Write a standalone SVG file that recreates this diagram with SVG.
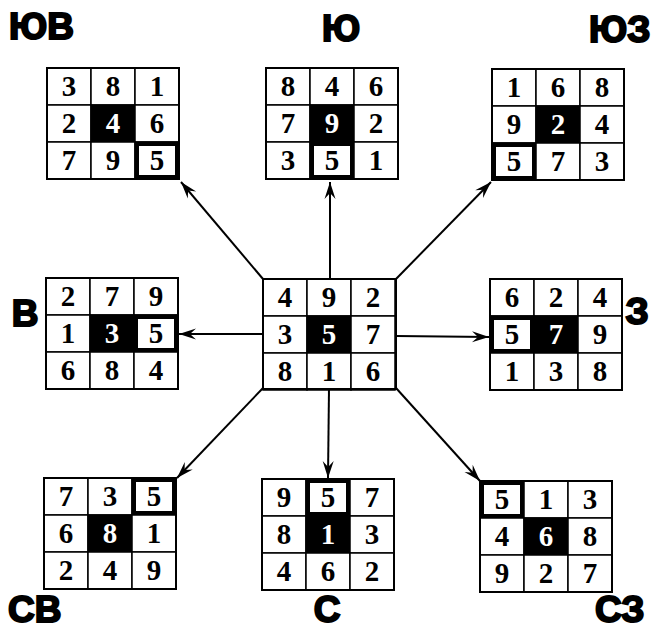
<svg xmlns="http://www.w3.org/2000/svg" width="653" height="631" viewBox="0 0 653 631">
<style>
.bg{fill:#fff}
.cell{fill:#fff;stroke:#000;stroke-width:1.5}
.blk{fill:#000;stroke:#000;stroke-width:1.5}
.hl{fill:#fff;stroke:#000;stroke-width:4}
.frame{fill:none;stroke:#000;stroke-width:2}
.d{font-family:"Liberation Serif","Times New Roman",serif;font-weight:bold;font-size:29px;text-anchor:middle;fill:#000}
.w{fill:#fff}
.lbl{font-family:"Liberation Sans",Arial,sans-serif;font-weight:bold;font-size:37px;fill:#000;stroke:#000;stroke-width:2}
.con line{stroke:#000;stroke-width:2;fill:none}
</style>
<defs>
<marker id="ah" markerUnits="userSpaceOnUse" viewBox="-18 -7 20 14" refX="0" refY="0" markerWidth="20" markerHeight="14" orient="auto">
<path d="M0,0 L-17,-5.5 L-11,0 L-17,5.5 Z" fill="#000"/>
</marker>
<g id="g3">
<rect class="cell" x="0" y="0" width="44" height="37"/>
<rect class="cell" x="44" y="0" width="44" height="37"/>
<rect class="cell" x="88" y="0" width="44" height="37"/>
<rect class="cell" x="0" y="37" width="44" height="37"/>
<rect class="blk" x="44" y="37" width="44" height="37"/>
<rect class="cell" x="88" y="37" width="44" height="37"/>
<rect class="cell" x="0" y="74" width="44" height="37"/>
<rect class="cell" x="44" y="74" width="44" height="37"/>
<rect class="cell" x="88" y="74" width="44" height="37"/>
</g>
</defs>
<rect class="bg" x="0" y="0" width="653" height="631"/>

<g id="connectors" class="con">
<line x1="330" y1="279" x2="330" y2="182" marker-end="url(#ah)"/>
<line x1="329" y1="388" x2="328" y2="478" marker-end="url(#ah)"/>
<line x1="263" y1="334" x2="179" y2="334" marker-end="url(#ah)"/>
<line x1="396" y1="336" x2="489" y2="337" marker-end="url(#ah)"/>
<line x1="263" y1="279" x2="181" y2="182" marker-end="url(#ah)"/>
<line x1="396" y1="279" x2="491" y2="182" marker-end="url(#ah)"/>
<line x1="263" y1="388" x2="177" y2="478" marker-end="url(#ah)"/>
<line x1="396" y1="388" x2="480" y2="481" marker-end="url(#ah)"/>
</g>

<g id="n-yuv" transform="translate(47,68)">
<use href="#g3"/>
<rect class="hl" x="90" y="76" width="40" height="33"/>
<rect class="frame" x="0" y="0" width="132" height="111"/>
<text class="d" x="22" y="28">3</text><text class="d" x="66" y="28">8</text><text class="d" x="110" y="28">1</text>
<text class="d" x="22" y="65">2</text><text class="d w" x="66" y="65">4</text><text class="d" x="110" y="65">6</text>
<text class="d" x="22" y="102">7</text><text class="d" x="66" y="102">9</text><text class="d" x="110" y="102">5</text>
</g>

<g id="n-yu" transform="translate(266,68)">
<use href="#g3"/>
<rect class="hl" x="46" y="76" width="40" height="33"/>
<rect class="frame" x="0" y="0" width="132" height="111"/>
<text class="d" x="22" y="28">8</text><text class="d" x="66" y="28">4</text><text class="d" x="110" y="28">6</text>
<text class="d" x="22" y="65">7</text><text class="d w" x="66" y="65">9</text><text class="d" x="110" y="65">2</text>
<text class="d" x="22" y="102">3</text><text class="d" x="66" y="102">5</text><text class="d" x="110" y="102">1</text>
</g>

<g id="n-yuz" transform="translate(492,69)">
<use href="#g3"/>
<rect class="hl" x="2" y="76" width="40" height="33"/>
<rect class="frame" x="0" y="0" width="132" height="111"/>
<text class="d" x="22" y="28">1</text><text class="d" x="66" y="28">6</text><text class="d" x="110" y="28">8</text>
<text class="d" x="22" y="65">9</text><text class="d w" x="66" y="65">2</text><text class="d" x="110" y="65">4</text>
<text class="d" x="22" y="102">5</text><text class="d" x="66" y="102">7</text><text class="d" x="110" y="102">3</text>
</g>

<g id="n-v" transform="translate(46,278)">
<use href="#g3"/>
<rect class="hl" x="90" y="39" width="40" height="33"/>
<rect class="frame" x="0" y="0" width="132" height="111"/>
<text class="d" x="22" y="28">2</text><text class="d" x="66" y="28">7</text><text class="d" x="110" y="28">9</text>
<text class="d" x="22" y="65">1</text><text class="d w" x="66" y="65">3</text><text class="d" x="110" y="65">5</text>
<text class="d" x="22" y="102">6</text><text class="d" x="66" y="102">8</text><text class="d" x="110" y="102">4</text>
</g>

<g id="n-center" transform="translate(263,279)">
<use href="#g3"/>
<rect class="frame" x="0" y="0" width="133" height="110"/>
<text class="d" x="22" y="28">4</text><text class="d" x="66" y="28">9</text><text class="d" x="110" y="28">2</text>
<text class="d" x="22" y="65">3</text><text class="d w" x="66" y="65">5</text><text class="d" x="110" y="65">7</text>
<text class="d" x="22" y="102">8</text><text class="d" x="66" y="102">1</text><text class="d" x="110" y="102">6</text>
</g>

<g id="n-z" transform="translate(490,279)">
<use href="#g3"/>
<rect class="hl" x="2" y="39" width="40" height="33"/>
<rect class="frame" x="0" y="0" width="132" height="111"/>
<text class="d" x="22" y="28">6</text><text class="d" x="66" y="28">2</text><text class="d" x="110" y="28">4</text>
<text class="d" x="22" y="65">5</text><text class="d w" x="66" y="65">7</text><text class="d" x="110" y="65">9</text>
<text class="d" x="22" y="102">1</text><text class="d" x="66" y="102">3</text><text class="d" x="110" y="102">8</text>
</g>

<g id="n-sv" transform="translate(44,478)">
<use href="#g3"/>
<rect class="hl" x="90" y="2" width="40" height="33"/>
<rect class="frame" x="0" y="0" width="132" height="111"/>
<text class="d" x="22" y="28">7</text><text class="d" x="66" y="28">3</text><text class="d" x="110" y="28">5</text>
<text class="d" x="22" y="65">6</text><text class="d w" x="66" y="65">8</text><text class="d" x="110" y="65">1</text>
<text class="d" x="22" y="102">2</text><text class="d" x="66" y="102">4</text><text class="d" x="110" y="102">9</text>
</g>

<g id="n-s" transform="translate(262,479)">
<use href="#g3"/>
<rect class="hl" x="46" y="2" width="40" height="33"/>
<rect class="frame" x="0" y="0" width="132" height="111"/>
<text class="d" x="22" y="28">9</text><text class="d" x="66" y="28">5</text><text class="d" x="110" y="28">7</text>
<text class="d" x="22" y="65">8</text><text class="d w" x="66" y="65">1</text><text class="d" x="110" y="65">3</text>
<text class="d" x="22" y="102">4</text><text class="d" x="66" y="102">6</text><text class="d" x="110" y="102">2</text>
</g>

<g id="n-sz" transform="translate(480,481)">
<use href="#g3"/>
<rect class="hl" x="2" y="2" width="40" height="33"/>
<rect class="frame" x="0" y="0" width="132" height="111"/>
<text class="d" x="22" y="28">5</text><text class="d" x="66" y="28">1</text><text class="d" x="110" y="28">3</text>
<text class="d" x="22" y="65">4</text><text class="d w" x="66" y="65">6</text><text class="d" x="110" y="65">8</text>
<text class="d" x="22" y="102">9</text><text class="d" x="66" y="102">2</text><text class="d" x="110" y="102">7</text>
</g>

<g id="labels">
<text class="lbl" x="9" y="39">ЮВ</text>
<text class="lbl" x="341" y="41" text-anchor="middle">Ю</text>
<text class="lbl" x="589" y="42">ЮЗ</text>
<text class="lbl" x="25" y="326" text-anchor="middle">В</text>
<text class="lbl" x="637" y="324" text-anchor="middle">З</text>
<text class="lbl" x="8" y="622">СВ</text>
<text class="lbl" x="327" y="622" text-anchor="middle">С</text>
<text class="lbl" x="595" y="622">СЗ</text>
</g>
</svg>
